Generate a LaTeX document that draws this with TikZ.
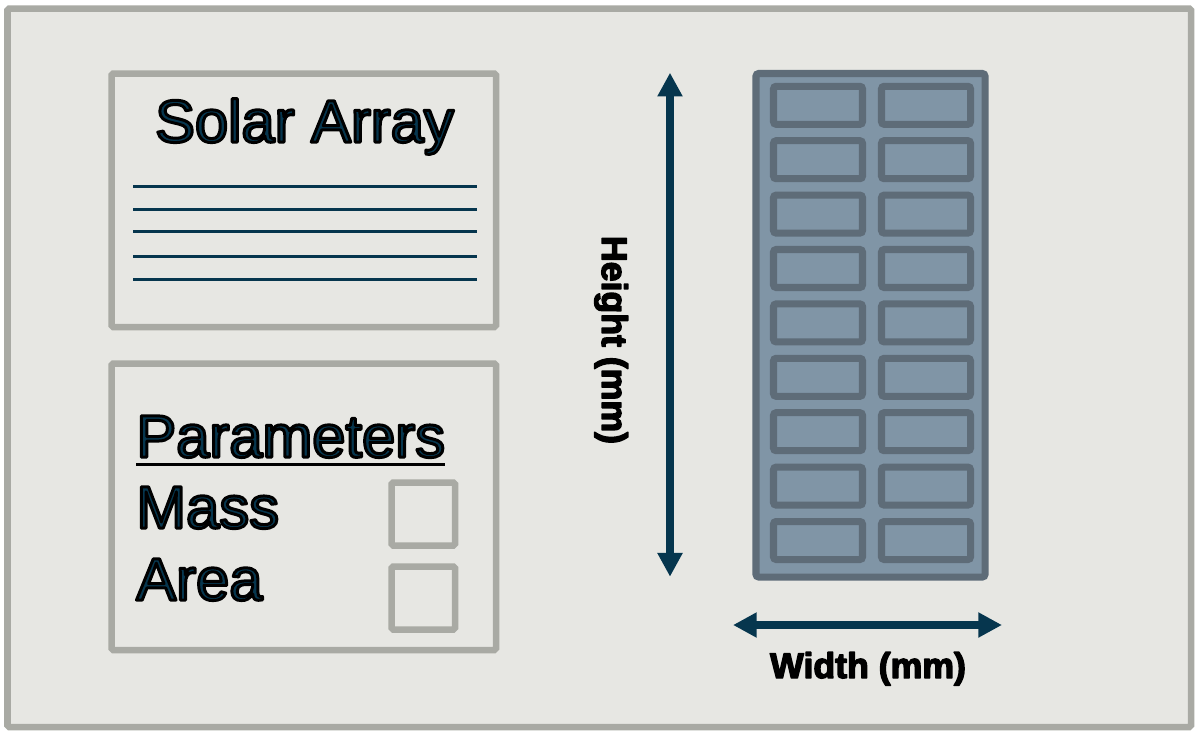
\documentclass[tikz,border=0pt]{standalone}
\usepackage{fontspec}
\setmainfont{Liberation Sans}
\usepackage{xcolor}
\usetikzlibrary{arrows.meta}
\definecolor{bggray}{HTML}{E7E7E3}
\definecolor{framegray}{HTML}{A9AAA4}
\definecolor{deepteal}{HTML}{06364E}
\definecolor{panelfill}{HTML}{8095A6}
\definecolor{paneledge}{HTML}{5E6C78}
\newcommand{\outlined}[2][1.7]{\special{pdf:literal direct 0 0 0 RG #1 w 1 j 2 Tr}#2\special{pdf:literal direct 0 Tr}}
\tikzset{
    frame/.style={draw=framegray, line width=3.7pt, rounded corners=1pt},
    lbl/.style={text=deepteal, inner sep=0pt, font=\fontsize{34}{40}\selectfont},
    dimlbl/.style={text=black, inner sep=0pt, font=\fontsize{20.3}{24}\selectfont\bfseries},
    dimarrow/.style={draw=deepteal, line width=4.2pt, {Triangle[length=13.5pt,width=13.5pt]}-{Triangle[length=13.5pt,width=13.5pt]}},
    cell/.style={draw=paneledge, line width=4pt, rounded corners=1.5pt},
}

\begin{document}
\begin{tikzpicture}[x=0.02cm, y=-0.02cm]
        \useasboundingbox[fill=white] (0,0) rectangle (1203,735);
        \draw[frame, fill=bggray] (7.5,8.5) rectangle (1191,727);

        \draw[frame] (111.5,73.5) rectangle (496,327);
        \node[lbl, anchor=base] (title) at (304.5,142) {\outlined{Solar Array}};
        \foreach \y in {186.7,209.7,231.7,256.7,279.7}
            \draw[deepteal, line width=1.7pt] (133,\y) -- (477,\y);

        \draw[frame] (111.5,363.5) rectangle (496,650);
        \node[lbl, anchor=base west] (params) at (136,457) {\outlined{Parameters}};
        \draw[line width=1.7pt] ([yshift=-4.5pt]params.base west) -- ([yshift=-4.5pt]params.base east);
        \node[lbl, anchor=base west] (mass) at (136,528) {\outlined{Mass}};
        \node[lbl, anchor=base west] (area) at (136,600) {\outlined{Area}};
        \draw[frame] (391.5,482.5) rectangle (455,545.5);
        \draw[frame] (391.5,566.5) rectangle (455,629.5);

        \draw[draw=paneledge, fill=panelfill, line width=4pt, rounded corners=1.5pt] (756,73.5) rectangle (985,577);
        \foreach \r in {0,...,8} {
            \draw[cell] (773.5,86.3+54.4*\r) rectangle ++(89,38);
            \draw[cell] (881.5,86.3+54.4*\r) rectangle ++(89,38);
        }

        \coordinate (htop) at (670,72.7);
        \coordinate (hbot) at (670,576.7);
        \draw[dimarrow] (htop) -- (hbot);
        \node[dimlbl, rotate=-90, anchor=base] (hlabel) at (602,340) {\outlined[0.8]{Height (mm)}};

        \coordinate (wleft) at (733,625);
        \coordinate (wright) at (1002,625);
        \draw[dimarrow] (wleft) -- (wright);
        \node[dimlbl, anchor=base] (wlabel) at (868,678) {\outlined[0.8]{Width (mm)}};
\end{tikzpicture}
\end{document}
